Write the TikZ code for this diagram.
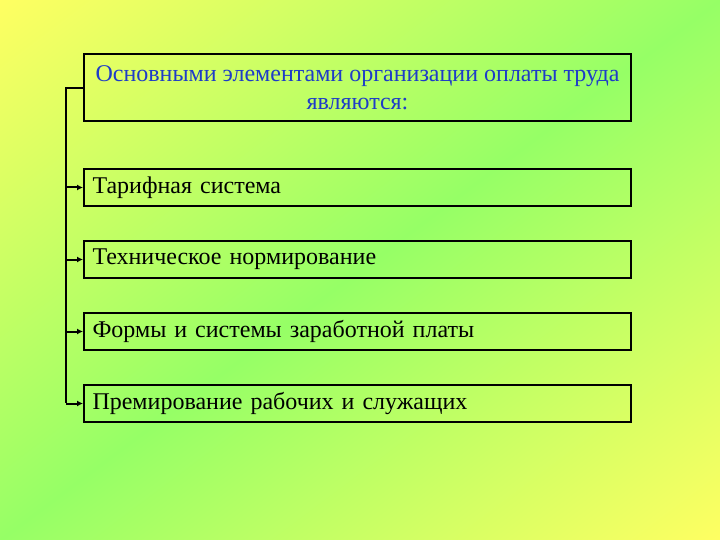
\documentclass[tikz,border=0pt]{standalone}
\usepackage{fontspec}
\setmainfont{Liberation Serif}
\usetikzlibrary{arrows.meta}
\definecolor{bgyel}{RGB}{255,255,98}
\definecolor{bggrn}{RGB}{150,255,102}
\definecolor{txtblue}{RGB}{30,60,200}
\tikzset{
  box/.style={draw=black, line width=2pt, minimum height=37pt, minimum width=547pt, anchor=north west, inner sep=0pt, text width=530pt, align=left, font=\fontsize{24}{28}\selectfont},
  conn/.style={draw=black, line width=2pt},
  arr/.style={draw=black, line width=2pt, -{Latex[length=6pt,width=6pt]}}
}
\begin{document}
\begin{tikzpicture}[x=1pt,y=-1pt]
\useasboundingbox (0,0) rectangle (720,540);
\begin{scope}[transform canvas={xscale=1.3333333}]
\begin{scope}[transform canvas={rotate around={45:(270,270)}}]
\shade[top color=bgyel, bottom color=bgyel, middle color=bggrn] (-112,-112) rectangle (652,652);
\end{scope}
\end{scope}
\node[draw=black, line width=2pt, minimum height=67pt, minimum width=547pt, anchor=north west, inner sep=0pt, align=center, text=txtblue, font=\fontsize{24}{28}\selectfont] (head) at (83,53) {Основными элементами организации оплаты труда\\являются:};
\node[box] (b1) at (83,168) {Тарифная система};
\node[box] (b2) at (83,240) {Техническое нормирование};
\node[box] (b3) at (83,312) {Формы и системы заработной платы};
\node[box] (b4) at (83,384) {Премирование рабочих и служащих};
\coordinate (c0) at (66,88);
\coordinate (c4) at (66,403);
\draw[conn] (head.west |- c0) -- (c0) -- (c4);
\foreach \b in {b1,b2,b3,b4} {
  \draw[arr] (c0 |- \b.west) -- (\b.west);
}
\end{tikzpicture}
\end{document}
